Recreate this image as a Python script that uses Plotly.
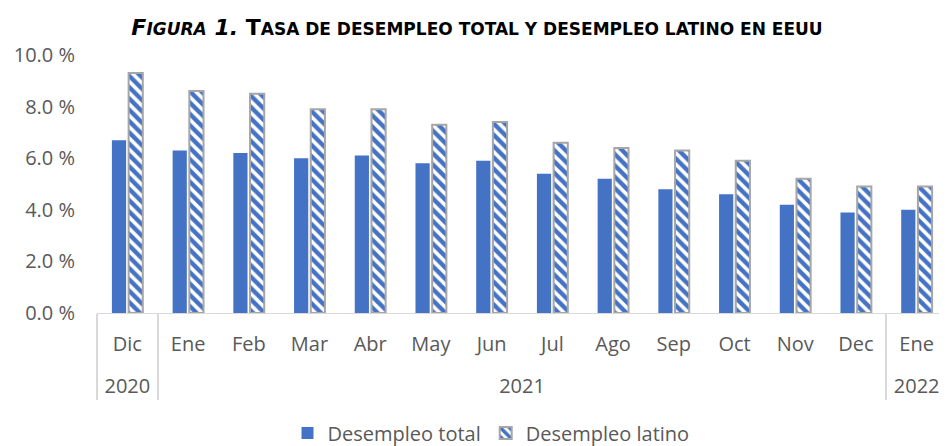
import plotly.graph_objects as go

years = ["2020"] + ["2021"] * 12 + ["2022"]
months = ["Dic", "Ene", "Feb", "Mar", "Abr", "May", "Jun", "Jul", "Ago", "Sep", "Oct", "Nov", "Dec", "Ene"]
desempleo_total = [6.7, 6.3, 6.2, 6.0, 6.1, 5.8, 5.9, 5.4, 5.2, 4.8, 4.6, 4.2, 3.9, 4.0]
desempleo_latino = [9.3, 8.6, 8.5, 7.9, 7.9, 7.3, 7.4, 6.6, 6.4, 6.3, 5.9, 5.2, 4.9, 4.9]
y_ticks = [0, 2, 4, 6, 8, 10]

BLUE = "#4472C4"
GRAY = "#595959"
FONT = "Open Sans"

# display labels: extra line break before the year to space the two label rows
year_labels = ["<br>" + y for y in years]
month_labels = list(months)

fig = go.Figure()
fig.add_trace(go.Bar(
    x=[year_labels, month_labels], y=desempleo_total, name="Desempleo total",
    marker=dict(color=BLUE, line=dict(width=0)),
))
fig.add_trace(go.Bar(
    x=[year_labels, month_labels], y=desempleo_latino, name="Desempleo latino",
    marker=dict(color="white", line=dict(color="#a6a6a6", width=2),
                pattern=dict(shape="\\", fgcolor=BLUE, bgcolor="white", size=8,
                             solidity=0.55, fgopacity=1)),
))

title = ("<b><i>F<span style='font-size:17px'>IGURA</span> 1.</i> "
         "T<span style='font-size:17px'>ASA DE DESEMPLEO TOTAL Y DESEMPLEO LATINO EN EEUU</span></b>")

W, H = 939, 438
fig.update_layout(
    width=W, height=H,
    margin=dict(l=89, r=0, t=47, b=133, autoexpand=False),
    paper_bgcolor="white", plot_bgcolor="white",
    barmode="group", bargap=0.45, bargroupgap=0.15,
    title=dict(text=title, x=469 / W, xanchor="center", y=1 - 19 / H, yanchor="middle",
               font=dict(family="DejaVu Sans", size=22, color="black")),
    font=dict(family=FONT, color=GRAY, size=20),
    showlegend=True,
    legend=dict(orientation="h", x=(483 - 89) / 850, xanchor="center",
                y=-(425 - 305) / 258, yanchor="middle",
                font=dict(family=FONT, size=20, color=GRAY), traceorder="normal"),
    xaxis=dict(type="multicategory", showline=True, linecolor="#d9d9d9", linewidth=1,
               showdividers=True, dividercolor="#d9d9d9", dividerwidth=1.5,
               tickfont=dict(family=FONT, size=20, color=GRAY), ticks="", showgrid=False,
               automargin=False, ticklabelstandoff=13),
    yaxis=dict(range=[0, 10], tickvals=y_ticks, ticktext=[f"{v:.1f} %" for v in y_ticks],
               showgrid=False, zeroline=False, showline=False,
               tickfont=dict(family=FONT, size=20, color=GRAY), ticklen=0, ticks="",
               ticklabelstandoff=21, automargin=False),
)

fig.write_html("out.html")
